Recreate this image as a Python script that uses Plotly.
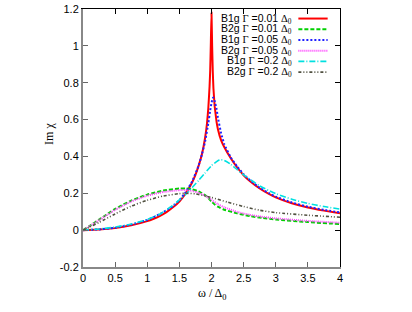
import plotly.graph_objects as go

# ---------------- data ----------------
w_b1g_001 = [0, 0.25, 0.5, 0.75, 1.0, 1.1, 1.2, 1.3, 1.4, 1.5, 1.6, 1.7, 1.75, 1.8, 1.85, 1.9,
             1.93, 1.95, 1.97, 1.98, 1.99, 2.0, 2.01, 2.02, 2.03, 2.05, 2.08, 2.1, 2.15, 2.2,
             2.3, 2.4, 2.5, 2.6, 2.75, 2.9, 3.0, 3.25, 3.5, 3.75, 4.0]
v_b1g_001 = [0, 0.003, 0.011, 0.026, 0.049, 0.062, 0.078, 0.098, 0.124, 0.155, 0.2, 0.26, 0.3,
             0.35, 0.41, 0.5, 0.58, 0.66, 0.78, 0.87, 1.02, 1.18, 1.0, 0.86, 0.77, 0.67,
             0.585, 0.548, 0.487, 0.45, 0.39, 0.34, 0.298, 0.265, 0.226, 0.195, 0.178, 0.146, 0.123,
             0.106, 0.092]

w_b2g_001 = [0, 0.1, 0.25, 0.5, 0.75, 1.0, 1.25, 1.5, 1.6, 1.7, 1.8, 1.9, 1.95, 2.0, 2.05, 2.1,
             2.2, 2.4, 2.6, 2.8, 3.0, 3.5, 4.0]
v_b2g_001 = [0, 0.022, 0.057, 0.115, 0.16, 0.193, 0.215, 0.226, 0.226, 0.221, 0.21, 0.19, 0.174,
             0.155, 0.139, 0.127, 0.111, 0.091, 0.076, 0.066, 0.058, 0.044, 0.033]

w_b1g_005 = [0, 0.25, 0.5, 0.75, 1.0, 1.2, 1.4, 1.5, 1.6, 1.7, 1.8, 1.85, 1.9, 1.95, 1.98, 2.0,
             2.025, 2.05, 2.08, 2.1, 2.15, 2.2, 2.3, 2.4, 2.5, 2.6, 2.75, 2.9, 3.0, 3.25, 3.5, 3.75, 4.0]
v_b1g_005 = [0, 0.004, 0.013, 0.03, 0.055, 0.088, 0.13, 0.162, 0.207, 0.265, 0.35, 0.41, 0.48,
             0.58, 0.65, 0.69, 0.72, 0.7, 0.655, 0.61, 0.525, 0.465, 0.395, 0.345, 0.303, 0.27,
             0.23, 0.199, 0.182, 0.15, 0.127, 0.11, 0.096]

w_b2g_005 = [0, 0.1, 0.25, 0.5, 0.75, 1.0, 1.25, 1.5, 1.6, 1.7, 1.8, 1.9, 2.0, 2.1, 2.2, 2.4, 2.6,
             2.8, 3.0, 3.5, 4.0]
v_b2g_005 = [0, 0.021, 0.054, 0.11, 0.155, 0.187, 0.207, 0.217, 0.217, 0.213, 0.203, 0.187, 0.164,
             0.141, 0.124, 0.099, 0.083, 0.072, 0.064, 0.05, 0.04]

w_b1g_02 = [0, 0.25, 0.5, 0.75, 1.0, 1.2, 1.4, 1.6, 1.8, 1.9, 2.0, 2.1, 2.15, 2.2, 2.3, 2.4, 2.5,
            2.75, 3.0, 3.25, 3.5, 3.75, 4.0]
v_b1g_02 = [0, 0.006, 0.017, 0.033, 0.058, 0.088, 0.135, 0.195, 0.27, 0.31, 0.35, 0.377, 0.382,
            0.378, 0.357, 0.328, 0.3, 0.24, 0.198, 0.168, 0.145, 0.128, 0.114]

w_b2g_02 = [0, 0.1, 0.25, 0.5, 0.75, 1.0, 1.25, 1.5, 1.6, 1.75, 2.0, 2.25, 2.5, 2.75, 3.0, 3.5, 4.0]
v_b2g_02 = [0, 0.016, 0.042, 0.088, 0.13, 0.162, 0.185, 0.198, 0.2, 0.197, 0.177, 0.152, 0.128,
            0.108, 0.095, 0.081, 0.07]

labels = ["B1g", "B2g", "B1g", "B2g", "B1g", "B2g"]
gammas = ["0.01", "0.01", "0.05", "0.05", "0.2", "0.2"]
colors = ["#ff0000", "#00d000", "#2020ff", "#ff40ff", "#00e0e0", "#505040"]
dashes = ["solid", "4px,2px", "2px,2px", "1px,1px", "6px,2px,1px,2px", "3px,2px,1px,2px,1px,2px"]
widths = [2, 2, 2, 2, 1.6, 1.6]

x_ticks = [0, 0.5, 1, 1.5, 2, 2.5, 3, 3.5, 4]
x_ticktext = ["0", "0.5", "1", "1.5", "2", "2.5", "3", "3.5", "4"]
y_ticks = [-0.2, 0, 0.2, 0.4, 0.6, 0.8, 1.0, 1.2]
y_ticktext = ["-0.2", "0", "0.2", "0.4", "0.6", "0.8", "1", "1.2"]

series_w = [w_b1g_001, w_b2g_001, w_b1g_005, w_b2g_005, w_b1g_02, w_b2g_02]
series_v = [v_b1g_001, v_b2g_001, v_b1g_005, v_b2g_005, v_b1g_02, v_b2g_02]

SANS = "Liberation Sans, Arial, sans-serif"
SERIF = "Liberation Serif, Times New Roman, serif"

fig = go.Figure()
for i in range(6):
    fig.add_trace(go.Scatter(
        x=series_w[i], y=series_v[i], mode="lines",
        line=dict(color=colors[i], width=widths[i], dash=dashes[i],
                  shape="spline", smoothing=0.6 if i not in (0, 2) else 0.3),
        showlegend=False, hoverinfo="skip"))

# dummy trace to realise the mirrored (top/right) axes
fig.add_trace(go.Scatter(x=[], y=[], xaxis="x2", yaxis="y2", showlegend=False))

# legend built from annotations + short sample lines
row0 = 0.963
dy = 0.0415
for i in range(6):
    yy = row0 - i * dy
    txt = (f"{labels[i]} <span style=\"font-family:{SERIF}\">Γ</span> ={gammas[i]} "
           f"<span style=\"font-family:{SERIF}\">Δ<sub>0</sub></span>")
    fig.add_annotation(x=0.822, y=yy, xref="paper", yref="paper", text=txt,
                       showarrow=False, xanchor="right", yanchor="middle",
                       font=dict(family=SANS, size=10.5, color="black"))
    fig.add_shape(type="line", xref="paper", yref="paper", x0=0.838, x1=0.952,
                  y0=yy, y1=yy, line=dict(color=colors[i], width=widths[i], dash=dashes[i]))

# axis titles
fig.add_annotation(x=-0.168, y=0.515, xref="paper", yref="paper", text="Im χ",
                   showarrow=False, textangle=-90,
                   font=dict(family=SERIF, size=12, color="black"))
fig.add_annotation(x=0.5, y=-0.142, xref="paper", yref="paper", text="ω / Δ<sub>0</sub>",
                   showarrow=False, font=dict(family=SERIF, size=12, color="black"))

axis_common = dict(ticks="inside", ticklen=5, tickwidth=1, showgrid=False, zeroline=False,
                   automargin=False)

fig.update_layout(
    width=412, height=312, autosize=False,
    margin=dict(l=83, r=72, t=9, b=45, autoexpand=False),
    paper_bgcolor="white", plot_bgcolor="white",
    font=dict(family=SANS, size=11, color="black"),
    xaxis=dict(range=[0, 4], tickvals=x_ticks, ticktext=x_ticktext,
               showline=True, linecolor="#888888", linewidth=2, tickcolor="#666666",
               **axis_common),
    yaxis=dict(range=[-0.2, 1.2], tickvals=y_ticks, ticktext=y_ticktext,
               showline=True, linecolor="#888888", linewidth=2, tickcolor="#666666",
               **axis_common),
    xaxis2=dict(range=[0, 4], overlaying="x", side="top", anchor="y", tickvals=x_ticks,
                showticklabels=False, showline=True, linecolor="black", linewidth=1,
                tickcolor="black", **axis_common),
    yaxis2=dict(range=[-0.2, 1.2], overlaying="y", side="right", anchor="x", tickvals=y_ticks,
                showticklabels=False, showline=True, linecolor="black", linewidth=1,
                tickcolor="black", **axis_common),
)

fig.write_html("out.html", config={"displayModeBar": False},
               post_script="document.body.style.margin='0';")
